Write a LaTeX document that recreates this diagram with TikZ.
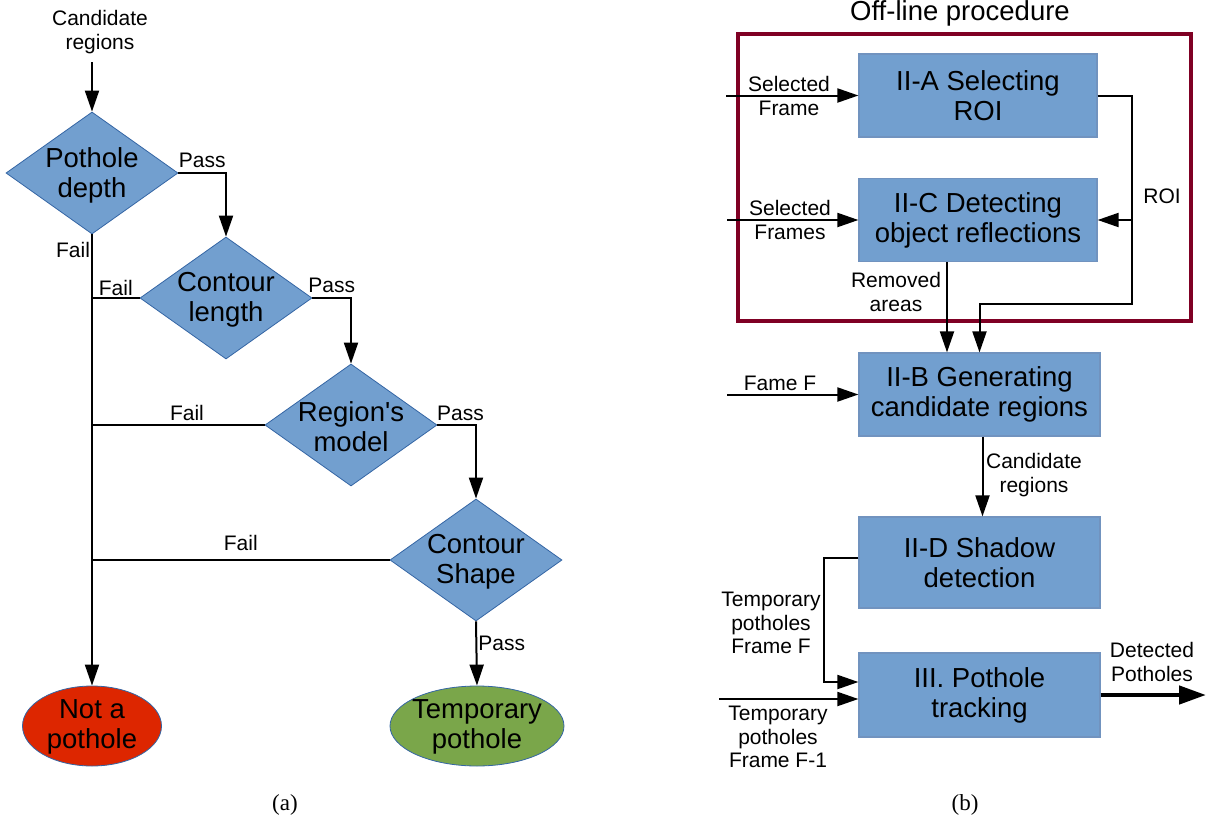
\documentclass[tikz,border=0pt]{standalone}
\usepackage{fontspec}
\setmainfont{Liberation Sans}
\newfontfamily\capfont{Liberation Serif}
\usetikzlibrary{shapes.geometric,arrows.meta}
\definecolor{boxblue}{HTML}{729FCF}
\definecolor{edgeblue}{HTML}{3465A4}
\definecolor{nored}{HTML}{DD2600}
\definecolor{yesgreen}{HTML}{7AA64A}
\definecolor{frameRed}{HTML}{7F0024}
\tikzset{
    line/.style={line width=2pt},
    arr/.style={-{Triangle[length=21pt,width=14pt]}, line width=2pt},
    bigarr/.style={-{Triangle[length=27pt,width=18pt]}, line width=4.5pt},
    lbl/.style={font=\fontsize{21}{23.5}\selectfont, align=center, inner sep=1pt},
    big/.style={font=\fontsize{27.5}{30}\selectfont, align=center, inner sep=0pt},
    decision/.style={diamond, draw=edgeblue, fill=boxblue, line width=0.8pt, minimum width=172pt, minimum height=122pt, inner sep=0pt},
    endpoint/.style={ellipse, draw=edgeblue, line width=0.8pt, minimum height=80pt, inner sep=0pt},
    block/.style={rectangle, draw=edgeblue!70, fill=boxblue, line width=1.2pt, minimum width=241pt, minimum height=83pt, big},
    offbox/.style={rectangle, draw=frameRed, line width=4pt, minimum width=453pt, minimum height=287pt}
}
\begin{document}
\begin{tikzpicture}[x=1pt,y=-1pt]
    \useasboundingbox (0,0) rectangle (1208,827);
    % (a) checks on candidate regions
    \node[lbl] (candlbl) at (100,32) {Candidate\\regions};
    \coordinate (candin) at (92,62);
    \node[decision] (depth) at (92,173) {};
    \node[big] (depthtxt) at (92,175) {Pothole\\depth};
    \node[decision] (length) at (226,298) {};
    \node[big] (lengthtxt) at (226,300) {Contour\\length};
    \node[decision] (model) at (351,425) {};
    \node[big] (modeltxt) at (351,427) {Region\textquotesingle s\\model};
    \node[decision] (shape) at (476,560) {};
    \node[big] (shapetxt) at (476,562) {Contour\\Shape};
    \node[endpoint, fill=nored, minimum width=139pt] (notp) at (92,726) {};
    \node[big] (notptxt) at (92,727) {Not a\\pothole};
    \node[endpoint, fill=yesgreen, minimum width=174pt] (temp) at (477,726) {};
    \node[big] (temptxt) at (477,727) {Temporary\\pothole};
    \draw[arr] (candin) -- (depth.north);
    \draw[arr] (depth.east) -| node[lbl, pos=0.25, above=3pt] {Pass} (length.north);
    \draw[arr] (length.east) -| node[lbl, pos=0.25, above=3pt] {Pass} (model.north);
    \draw[arr] (model.east) -| node[lbl, pos=0.3, above=2pt] {Pass} (shape.north);
    \draw[arr] (shape.south) -- node[lbl, pos=0.35, right] {Pass} (temp.north);
    \draw[arr] (depth.south) -- node[lbl, pos=0.035, left] {Fail} (notp.north);
    \draw[line] (length.west) -- node[lbl, above] {Fail} (length.west -| depth.south);
    \draw[line] (model.west) -- node[lbl, pos=0.45, above=2pt] {Fail} (model.west -| depth.south);
    \draw[line] (shape.west) -- node[lbl, above=7pt] {Fail} (shape.west -| depth.south);
    \node[font=\capfont\fontsize{23}{25}\selectfont] (capa) at (285,805) {(a)};
    % (b) processing blocks
    \node[font=\fontsize{27.5}{30}\selectfont, inner sep=0pt] (offlbl) at (960,13) {Off-line procedure};
    \node[offbox] (offline) at (964.5,177.5) {};
    \node[block, minimum width=238pt] (sela) at (978,95.5) {II-A Selecting\\ROI};
    \node[block, minimum width=238pt] (refl) at (978,220) {II-C Detecting\\object reflections};
    \node[block] (genb) at (979.5,394.5) {II-B Generating\\candidate regions};
    \node[block, minimum height=91pt] (shadow) at (979.5,562.5) {II-D Shadow\\detection};
    \node[block, minimum height=84pt] (track) at (979.5,695) {III. Pothole\\tracking};
    \coordinate (selin) at (726,95.5);
    \coordinate (reflin) at (727,220);
    \coordinate (framein) at (727,394.5);
    \coordinate (previn) at (719,699);
    \coordinate (roicorner) at (1132,304);
    \coordinate (tmpbend) at (824,620);
    \coordinate (detout) at (1206,695);
    \draw[arr] (selin) -- (sela.west);
    \node[lbl] (sellbl) at (789,96) {Selected\\Frame};
    \draw[arr] (reflin) -- (refl.west);
    \node[lbl] (refllbl) at (790,220) {Selected\\Frames};
    \draw[arr] (sela.east) -| (roicorner) -| (genb.north);
    \draw[arr] (refl.east -| roicorner) -- (refl.east);
    \node[lbl] (roilbl) at (1162,196) {ROI};
    \draw[arr] ([xshift=-31pt]refl.south) -- ([xshift=-31pt]refl.south |- genb.north);
    \node[lbl] (remlbl) at (896,292) {Removed\\areas};
    \draw[arr] (framein) -- (genb.west);
    \node[lbl] (framelbl) at (780,383) {Fame F};
    \draw[arr] ([xshift=3pt]genb.south) -- ([xshift=3pt]shadow.north);
    \node[lbl] (candlbl2) at (1034,475) {Candidate\\regions};
    \draw[arr] ([yshift=5pt]shadow.west) -| (tmpbend) |- ([yshift=13pt]track.west);
    \node[lbl] (curlbl) at (771,623) {Temporary\\potholes\\Frame F};
    \draw[arr] (previn) -- (previn -| track.west);
    \node[lbl] (prevlbl) at (778,737) {Temporary\\potholes\\Frame F-1};
    \draw[bigarr] (track.east) -- (detout);
    \node[lbl] (detlbl) at (1152,662) {Detected\\Potholes};
    \node[font=\capfont\fontsize{23}{25}\selectfont] (capb) at (965,805) {(b)};
\end{tikzpicture}
\end{document}
